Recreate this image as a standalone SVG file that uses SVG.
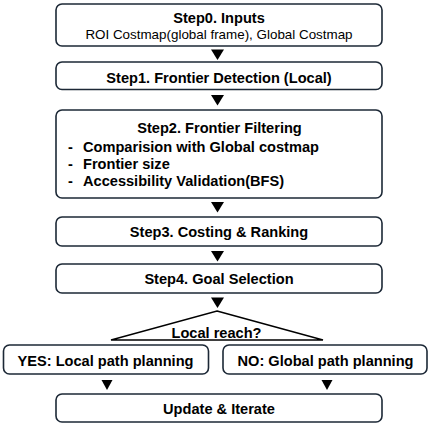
<svg xmlns="http://www.w3.org/2000/svg" width="432" height="427" viewBox="0 0 432 427">
<style>
.box{fill:#fff;stroke:#1c2836;stroke-width:1.6}
.t{font-family:"Liberation Sans",Arial,sans-serif;font-size:14.6px;font-weight:bold;fill:#000;text-anchor:middle}
.r{font-family:"Liberation Sans",Arial,sans-serif;font-size:13.4px;fill:#000;text-anchor:middle}
.l{font-family:"Liberation Sans",Arial,sans-serif;font-size:14.6px;font-weight:bold;fill:#000}
.arr{fill:#000}
</style>
<rect width="432" height="427" fill="#fff"/>
<g id="step0">
<rect class="box" x="56" y="4" width="326" height="42" rx="6"/>
<text class="t" x="219" y="23">Step0. Inputs</text>
<text class="r" x="219" y="38.5">ROI Costmap(global frame), Global Costmap</text>
</g>
<g id="step1">
<rect class="box" x="56" y="62" width="326" height="27.5" rx="6"/>
<text class="t" x="219" y="82.5">Step1. Frontier Detection (Local)</text>
</g>
<g id="step2">
<rect class="box" x="56" y="110" width="326" height="88" rx="6"/>
<text class="t" x="219.5" y="133">Step2. Frontier Filtering</text>
<text class="l" x="68" y="152">-</text><text class="l" x="83" y="152">Comparision with Global costmap</text>
<text class="l" x="68" y="169">-</text><text class="l" x="83" y="169">Frontier size</text>
<text class="l" x="68" y="186">-</text><text class="l" x="83" y="186">Accessibility Validation(BFS)</text>
</g>
<g id="step3">
<rect class="box" x="56" y="217" width="326" height="29" rx="6"/>
<text class="t" x="219" y="237">Step3. Costing &amp; Ranking</text>
</g>
<g id="step4">
<rect class="box" x="56" y="264" width="326" height="29" rx="6"/>
<text class="t" x="219" y="284">Step4. Goal Selection</text>
</g>
<g id="decision">
<polygon points="217,311 323,340 111,340" fill="#fff" stroke="#000" stroke-width="1.4"/>
<text class="t" x="216.5" y="338">Local reach?</text>
</g>
<g id="yes">
<rect class="box" x="3.5" y="345" width="205" height="29" rx="6"/>
<text class="t" x="105.5" y="366">YES: Local path planning</text>
</g>
<g id="no">
<rect class="box" x="223" y="345" width="204" height="29" rx="6"/>
<text class="t" x="325.5" y="366">NO: Global path planning</text>
</g>
<g id="update">
<rect class="box" x="56" y="394" width="326" height="28" rx="6"/>
<text class="t" x="219" y="414">Update &amp; Iterate</text>
</g>
<g id="connectors">
<polygon class="arr" points="211,49.5 224,49.5 217.5,60"/>
<polygon class="arr" points="211,95 224,95 217.5,105.5"/>
<polygon class="arr" points="211,202 224,202 217.5,212.5"/>
<polygon class="arr" points="211,251 224,251 217.5,261.5"/>
<polygon class="arr" points="211,297.5 224,297.5 217.5,308"/>
<polygon class="arr" points="101.5,380 112.5,380 107,390"/>
<polygon class="arr" points="321.5,380 332.5,380 327,390"/>
</g>
</svg>
